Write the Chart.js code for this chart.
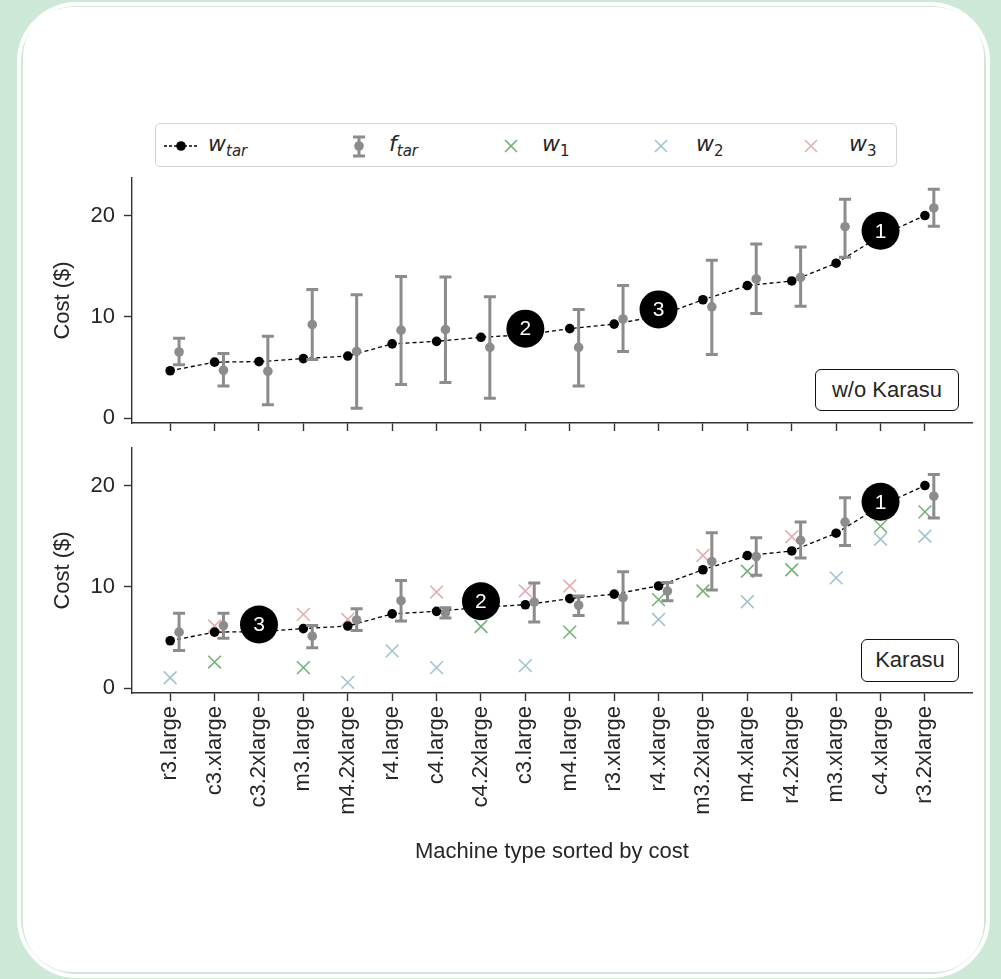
<!DOCTYPE html>
<html>
<head>
<meta charset="utf-8">
<script src="https://cdn.jsdelivr.net/npm/chart.js@4.4.1/dist/chart.umd.min.js"></script>
<style>
  html, body { margin: 0; padding: 0; }
  body { width: 1001px; height: 979px; background: #cde8d6; position: relative; overflow: hidden;
         font-family: "Liberation Sans", Arial, sans-serif; color: #262626; }
  .ring { position: absolute; left: 17px; top: 2px; width: 965px; height: 968px; border: 4px solid #fff; border-radius: 60px; }
  .card { position: absolute; left: 23px; top: 7px; width: 961px; height: 965px; background: #fff; border-radius: 50px; }
  .panel { position: absolute; left: 0; }
  .legend { position: absolute; left: 155px; top: 123px; width: 740px; height: 42px; border: 1px solid #d4d4d4; border-radius: 5px; background: #fff; }
  .legend .lbl { position: absolute; top: 7px; font-family: "DejaVu Sans", sans-serif; font-size: 22px; white-space: nowrap; }
  .legend .lbl i { font-style: italic; }
  .legend .lbl sub { font-size: 15px; vertical-align: -5px; }
  .legend svg { position: absolute; top: 0; }
  .tag { position: absolute; box-sizing: border-box; border: 1.6px solid #111; border-radius: 6px; background: #fff;
         font-size: 22px; text-align: center; color: #262626; }
</style>
</head>
<body>
<div class="ring"></div>
<div class="card"></div>

<div class="legend">
  <svg width="50" height="42" style="left:6px">
    <line x1="2" y1="22" x2="36" y2="22" stroke="#000" stroke-width="1.3" stroke-dasharray="3,2"/>
    <circle cx="19" cy="22" r="4.8" fill="#000"/>
  </svg>
  <span class="lbl" style="left:52px"><i>w</i><sub><i>tar</i></sub></span>
  <svg width="20" height="42" style="left:193px">
    <line x1="10" y1="13" x2="10" y2="32" stroke="#8c8c8c" stroke-width="3"/>
    <line x1="4" y1="13" x2="16" y2="13" stroke="#8c8c8c" stroke-width="3"/>
    <line x1="4" y1="32" x2="16" y2="32" stroke="#8c8c8c" stroke-width="3"/>
    <circle cx="10" cy="22" r="4.8" fill="#8c8c8c"/>
  </svg>
  <span class="lbl" style="left:233px"><i>f</i><sub><i>tar</i></sub></span>
  <svg width="20" height="42" style="left:345px">
    <path d="M4 16 L16 28 M16 16 L4 28" stroke="#74b27a" stroke-width="1.6"/>
  </svg>
  <span class="lbl" style="left:386px"><i>w</i><sub>1</sub></span>
  <svg width="20" height="42" style="left:495px">
    <path d="M4 16 L16 28 M16 16 L4 28" stroke="#a3c4cf" stroke-width="1.6"/>
  </svg>
  <span class="lbl" style="left:540px"><i>w</i><sub>2</sub></span>
  <svg width="20" height="42" style="left:645px">
    <path d="M4 16 L16 28 M16 16 L4 28" stroke="#e4aeb0" stroke-width="1.6"/>
  </svg>
  <span class="lbl" style="left:693px"><i>w</i><sub>3</sub></span>
</div>

<div class="panel" style="top:170px"><canvas id="chartTop" width="1001" height="270"></canvas></div>
<div class="panel" style="top:440px"><canvas id="chartBottom" width="1001" height="460"></canvas></div>

<div class="tag" style="left:815px; top:369px; width:144px; height:42px; line-height:39px;">w/o Karasu</div>
<div class="tag" style="left:861px; top:639px; width:98px; height:43px; line-height:40px;">Karasu</div>

<script>
// machine types, sorted by cost
const machines = ['r3.large', 'c3.xlarge', 'c3.2xlarge', 'm3.large', 'm4.2xlarge', 'r4.large',
                  'c4.large', 'c4.2xlarge', 'c3.large', 'm4.large', 'r3.xlarge', 'r4.xlarge',
                  'm3.2xlarge', 'm4.xlarge', 'r4.2xlarge', 'm3.xlarge', 'c4.xlarge', 'r3.2xlarge'];

// w_tar (same in both panels)
const wTar = [4.7, 5.55, 5.6, 5.9, 6.15, 7.35, 7.6, 8.0, 8.25, 8.85, 9.3, 10.1, 11.7, 13.1, 13.55, 15.3, 18.0, 20.0];

// f_tar, w/o Karasu
const fTarTop   = [6.55, 4.75, 4.65, 9.25, 6.6, 8.7, 8.75, 7.0, null, 7.0, 9.8, null, 11.0, 13.75, 13.9, 18.9, null, 20.75];
const fTarTopLo = [5.3, 3.2, 1.35, 5.8, 1.0, 3.35, 3.55, 2.0, null, 3.2, 6.6, null, 6.3, 10.35, 11.05, 15.9, null, 18.95];
const fTarTopHi = [7.9, 6.4, 8.1, 12.7, 12.2, 14.0, 13.95, 12.0, null, 10.75, 13.1, null, 15.6, 17.2, 16.9, 21.6, null, 22.6];

// f_tar, Karasu
const fTarBot   = [5.55, 6.2, null, 5.15, 6.75, 8.65, 7.45, null, 8.5, 8.2, 8.95, 9.6, 12.5, 13.0, 14.6, 16.4, null, 18.95];
const fTarBotLo = [3.75, 4.95, null, 4.0, 5.7, 6.65, 6.95, null, 6.55, 7.2, 6.45, 8.65, 9.7, 11.15, 12.85, 14.1, null, 16.8];
const fTarBotHi = [7.4, 7.4, null, 6.2, 7.85, 10.65, 7.95, null, 10.4, 9.1, 11.5, 10.45, 15.35, 14.85, 16.4, 18.8, null, 21.1];

// w_1, w_2, w_3 (Karasu panel)
const w1 = [null, 2.6, null, 2.05, null, null, null, 6.1, null, 5.55, null, 8.75, 9.6, 11.55, 11.7, null, 16.0, 17.4];
const w2 = [1.05, null, null, null, 0.6, 3.7, 2.05, null, 2.25, null, null, 6.8, null, 8.55, null, 10.9, 14.7, 15.0];
const w3 = [null, 6.15, null, 7.3, 6.8, null, 9.5, null, 9.6, 10.1, null, null, 13.1, null, 14.95, null, null, null];

// ranked picks (numbered circles)
const rankTopIdx = [16, 8, 11];
const rankTopVal = [18.5, 8.85, 10.75];
const rankBotIdx = [16, 7, 2];
const rankBotVal = [18.4, 8.6, 6.3];
const rankText   = ['1', '2', '3'];

const yTicks = [0, 10, 20];

const FONT = '"Liberation Sans", Arial, sans-serif';
const TXT = '#262626';
const AXIS = '#333333';
const GREY = '#8c8c8c';

const pts = (arr, dx = 0) => arr.map((v, i) => v == null ? null : { x: i + dx, y: v }).filter(p => p);

// error bars drawn right under the f_tar points, numbers on the circles
const errorBars = {
  id: 'errorBars',
  beforeDatasetDraw(chart, args) {
    const ds = chart.data.datasets[args.index];
    if (!ds.errLo) return;
    const { ctx, scales: { x, y } } = chart;
    ctx.save();
    ctx.strokeStyle = GREY;
    ctx.lineWidth = 3;
    ds.errIdx.forEach(i => {
      const px = x.getPixelForValue(i + 0.2);
      const top = y.getPixelForValue(ds.errHi[i]);
      const bot = y.getPixelForValue(ds.errLo[i]);
      ctx.beginPath();
      ctx.moveTo(px, top); ctx.lineTo(px, bot);
      ctx.moveTo(px - 6, top); ctx.lineTo(px + 6, top);
      ctx.moveTo(px - 6, bot); ctx.lineTo(px + 6, bot);
      ctx.stroke();
    });
    ctx.restore();
  },
  afterDatasetsDraw(chart) {
    const { ctx, scales: { x, y } } = chart;
    chart.data.datasets.forEach(ds => {
      if (!ds.rankLabels) return;
      ctx.save();
      ctx.fillStyle = '#fff';
      ctx.font = '21px ' + FONT;
      ctx.textAlign = 'center';
      ctx.textBaseline = 'middle';
      ds.data.forEach((p, k) => {
        ctx.fillText(ds.rankLabels[k], x.getPixelForValue(p.x), y.getPixelForValue(p.y) + 1);
      });
      ctx.restore();
    });
  }
};

function build(id, opts) {
  const fMean = opts.fMean;
  const datasets = [
    {
      label: 'rank', data: opts.rankIdx.map((i, k) => ({ x: i, y: opts.rankVal[k] })),
      rankLabels: rankText, pointRadius: 19, backgroundColor: '#000', borderColor: '#000', borderWidth: 0, order: 0
    },
    {
      label: 'f_tar', data: pts(fMean, 0.2),
      errIdx: fMean.map((v, i) => v == null ? -1 : i).filter(i => i >= 0),
      errLo: opts.fLo, errHi: opts.fHi,
      pointRadius: 4.8, backgroundColor: GREY, borderColor: GREY, borderWidth: 0, order: 1
    },
    {
      label: 'w_tar', data: pts(wTar), showLine: true,
      borderColor: '#000', borderWidth: 1.3, borderDash: [4, 3],
      pointRadius: 4.8, pointBackgroundColor: '#000', pointBorderWidth: 0, order: 2
    }
  ];
  if (opts.marks) {
    [[w1, '#74b27a'], [w2, '#a3c4cf'], [w3, '#e4aeb0']].forEach(([arr, col], k) => {
      datasets.push({
        label: 'w' + (k + 1), data: pts(arr), pointStyle: 'crossRot', pointRadius: 9,
        borderColor: col, backgroundColor: col, pointBorderWidth: 1.6, order: 3 + k
      });
    });
  }

  return new Chart(document.getElementById(id), {
    type: 'scatter',
    data: { datasets },
    plugins: [errorBars],
    options: {
      responsive: false,
      animation: false,
      events: [],
      layout: { autoPadding: false, padding: { left: 0, right: 29, top: 8, bottom: 0 } },
      plugins: { legend: { display: false }, tooltip: { enabled: false } },
      scales: {
        x: {
          type: 'linear', min: -0.86, max: 18.06,
          border: { color: AXIS, width: 1.4 },
          grid: { drawOnChartArea: false, tickLength: 8, tickColor: AXIS, tickWidth: 1.4 },
          afterBuildTicks: s => { s.ticks = machines.map((m, i) => ({ value: i })); },
          afterFit: s => {
            s.height = opts.xHeight;
            s.paddingLeft = 0; s.paddingRight = 0; s.paddingTop = 0; s.paddingBottom = 0;
          },
          ticks: {
            display: opts.xLabels, autoSkip: false, minRotation: 90, maxRotation: 90, padding: 5,
            color: TXT, font: { family: FONT, size: 22 },
            callback: v => machines[v]
          },
          title: {
            display: opts.xLabels, text: 'Machine type sorted by cost', color: TXT,
            font: { family: FONT, size: 22 }, padding: { top: 0, bottom: 35 }
          }
        },
        y: {
          min: -0.45, max: 23.7,
          border: { color: AXIS, width: 1.4 },
          grid: { drawOnChartArea: false, tickLength: 8, tickColor: AXIS, tickWidth: 1.4 },
          afterBuildTicks: s => { s.ticks = yTicks.map(v => ({ value: v })); },
          afterFit: s => {
            s.width = 132;
            s.paddingLeft = 0; s.paddingRight = 0; s.paddingTop = 0; s.paddingBottom = 0;
          },
          ticks: { color: TXT, font: { family: FONT, size: 22 }, padding: 9 },
          title: {
            display: true, text: 'Cost ($)', color: TXT,
            font: { family: FONT, size: 22 }, padding: { top: 50, bottom: 0 }
          }
        }
      }
    }
  });
}

build('chartTop', {
  fMean: fTarTop, fLo: fTarTopLo, fHi: fTarTopHi,
  rankIdx: rankTopIdx, rankVal: rankTopVal, marks: false, xLabels: false, xHeight: 17
});
build('chartBottom', {
  fMean: fTarBot, fLo: fTarBotLo, fHi: fTarBotHi,
  rankIdx: rankBotIdx, rankVal: rankBotVal, marks: true, xLabels: true, xHeight: 207
});
</script>
</body>
</html>
